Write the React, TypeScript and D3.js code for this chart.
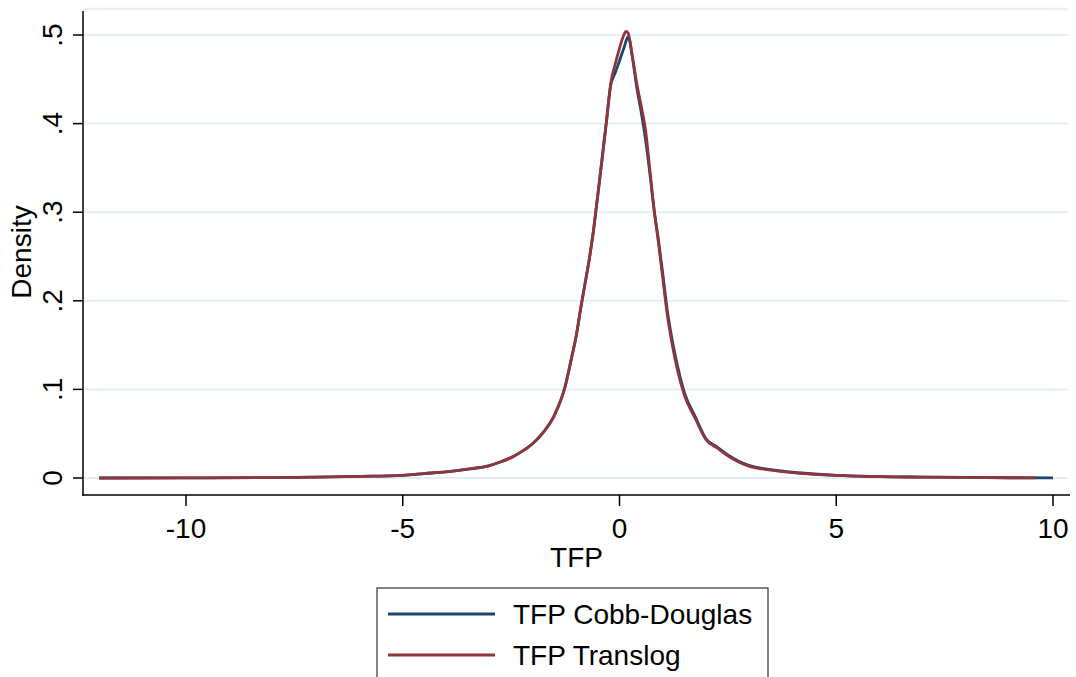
import React from "react";
import * as d3 from "d3";

const W = 1076;
const H = 677;

// TFP Cobb-Douglas (blue) density estimate
const cdX = [-12, -10, -8, -7, -6, -5, -4.5, -4, -3.5, -3, -2.75, -2.5, -2.25, -2, -1.75, -1.5, -1.25, -1.1, -1, -0.9, -0.8, -0.7, -0.6, -0.5, -0.4, -0.3, -0.2, -0.1, 0, 0.1, 0.2, 0.3, 0.4, 0.5, 0.6, 0.7, 0.8, 0.9, 1, 1.1, 1.2, 1.3, 1.5, 1.75, 2, 2.25, 2.5, 2.75, 3, 3.5, 4, 4.5, 5, 6, 7, 8, 9, 10];
const cdDensity = [0, 0.0002, 0.0005, 0.001, 0.0018, 0.003, 0.005, 0.007, 0.010, 0.014, 0.018, 0.023, 0.030, 0.039, 0.052, 0.071, 0.104, 0.137, 0.16, 0.19, 0.218, 0.246, 0.279, 0.319, 0.36, 0.402, 0.444, 0.457, 0.471, 0.485, 0.498, 0.474, 0.44, 0.413, 0.382, 0.344, 0.302, 0.268, 0.23, 0.19, 0.16, 0.135, 0.096, 0.069, 0.044, 0.035, 0.026, 0.019, 0.014, 0.0095, 0.0065, 0.0045, 0.003, 0.0015, 0.001, 0.0006, 0.0003, 0.0002];

// TFP Translog (red) density estimate
const tlX = [-12, -10, -8, -7, -6, -5, -4.5, -4, -3.5, -3, -2.75, -2.5, -2.25, -2, -1.75, -1.5, -1.25, -1.1, -1, -0.9, -0.8, -0.7, -0.6, -0.5, -0.4, -0.3, -0.2, -0.1, 0, 0.1, 0.15, 0.2, 0.3, 0.4, 0.5, 0.6, 0.7, 0.8, 0.9, 1, 1.1, 1.2, 1.3, 1.5, 1.75, 2, 2.25, 2.5, 2.75, 3, 3.5, 4, 4.5, 5, 6, 7, 8, 9, 9.6];
const tlDensity = [0, 0.0002, 0.0005, 0.001, 0.0018, 0.003, 0.005, 0.007, 0.010, 0.014, 0.018, 0.023, 0.030, 0.039, 0.052, 0.071, 0.104, 0.137, 0.16, 0.19, 0.218, 0.246, 0.28, 0.32, 0.362, 0.404, 0.446, 0.467, 0.485, 0.500, 0.504, 0.502, 0.475, 0.445, 0.42, 0.393, 0.348, 0.302, 0.265, 0.225, 0.185, 0.155, 0.13, 0.093, 0.067, 0.043, 0.034, 0.025, 0.018, 0.013, 0.009, 0.006, 0.004, 0.003, 0.0015, 0.001, 0.0006, 0.0003, 0.0002];

const xTicks = [-10, -5, 0, 5, 10];
const yTicks = [0, 0.1, 0.2, 0.3, 0.4, 0.5];
const yTickLabels = ["0", ".1", ".2", ".3", ".4", ".5"];
const seriesNames = ["TFP Cobb-Douglas", "TFP Translog"];
const seriesColors = ["#1a476f", "#90353b"];

const FONT = "'Liberation Sans', Arial, sans-serif";

export default function App() {
  const x = d3.scaleLinear().domain([-10, 10]).range([186, 1053]);
  const y = d3.scaleLinear().domain([0, 0.5]).range([478, 35]);
  const plotLeft = 83;
  const plotRight = 1070;
  const plotTop = 9;
  const plotBottom = 495;

  const line = d3
    .line<[number, number]>()
    .x((d) => x(d[0]))
    .y((d) => y(d[1]))
    .curve(d3.curveMonotoneX);

  const cdPts = cdX.map((v, i) => [v, cdDensity[i]] as [number, number]);
  const tlPts = tlX.map((v, i) => [v, tlDensity[i]] as [number, number]);

  return (
    <svg
      width={W}
      height={H}
      style={{ position: "absolute", left: 0, top: 0, background: "#fff" }}
      fontFamily={FONT}
    >
      {/* top faint border */}
      <line x1={plotLeft} x2={plotRight - 2} y1={plotTop} y2={plotTop} stroke="#eaf0f3" strokeWidth={2.5} />
      {/* gridlines */}
      {yTicks.map((t) => (
        <line key={"g" + t} x1={plotLeft} x2={plotRight - 2} y1={y(t)} y2={y(t)} stroke="#e6edf1" strokeWidth={2} />
      ))}
      {/* series */}
      <path d={line(cdPts) || ""} fill="none" stroke={seriesColors[0]} strokeWidth={2.8} strokeLinejoin="round" />
      <path d={line(tlPts) || ""} fill="none" stroke={seriesColors[1]} strokeWidth={2.8} strokeLinejoin="round" />
      {/* axes */}
      <line x1={plotLeft} x2={plotLeft} y1={plotTop + 2} y2={plotBottom + 1} stroke="#000" strokeWidth={1.5} />
      <line x1={plotLeft - 0.5} x2={plotRight} y1={plotBottom} y2={plotBottom} stroke="#000" strokeWidth={1.5} />
      {yTicks.map((t, i) => (
        <g key={"y" + t}>
          <line x1={plotLeft - 10} x2={plotLeft} y1={y(t)} y2={y(t)} stroke="#000" strokeWidth={1.5} />
          <text
            transform={`translate(62,${y(t)}) rotate(-90)`}
            textAnchor="middle"
            fontSize={28}
            fill="#000"
          >
            {yTickLabels[i]}
          </text>
        </g>
      ))}
      {xTicks.map((t) => (
        <g key={"x" + t}>
          <line x1={x(t)} x2={x(t)} y1={plotBottom} y2={plotBottom + 11} stroke="#000" strokeWidth={1.5} />
          <text x={x(t)} y={538} textAnchor="middle" fontSize={28} fill="#000">
            {t}
          </text>
        </g>
      ))}
      <text transform={`translate(31,${(plotTop + plotBottom) / 2}) rotate(-90)`} textAnchor="middle" fontSize={28} fill="#000">
        Density
      </text>
      <text x={(plotLeft + plotRight) / 2} y={567} textAnchor="middle" fontSize={28} fill="#000">
        TFP
      </text>
      {/* legend */}
      <rect x={377} y={588} width={391} height={100} fill="#fff" stroke="#333" strokeWidth={1.2} />
      {seriesNames.map((n, i) => (
        <g key={n}>
          <line x1={388} x2={495} y1={614 + i * 41} y2={614 + i * 41} stroke={seriesColors[i]} strokeWidth={2.8} />
          <text x={513} y={624 + i * 41} fontSize={28} fill="#000">
            {n}
          </text>
        </g>
      ))}
    </svg>
  );
}
